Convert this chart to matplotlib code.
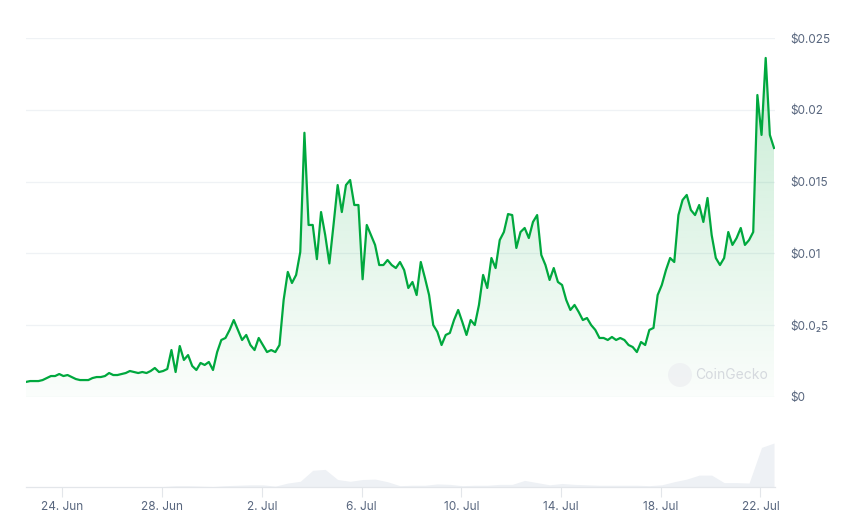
import numpy as np
import pandas as pd
import matplotlib.pyplot as plt
import matplotlib.dates as mdates
from matplotlib.colors import to_rgb
from matplotlib.patches import Polygon, Circle
from matplotlib.transforms import IdentityTransform

plt.rcParams['font.family'] = ['Inter', 'DejaVu Sans']

# price every 4 hours, starting 22 Jun ~13:00
start = pd.Timestamp('2024-06-22 13:00')
prices = [
    0.00105, 0.00111, 0.00111, 0.00111, 0.00118, 0.00132, 0.00146, 0.00146, 0.00160, 0.00146,
    0.00153, 0.00139, 0.00125, 0.00118, 0.00118, 0.00118, 0.00132, 0.00139, 0.00139, 0.00146,
    0.00167, 0.00153, 0.00153, 0.00160, 0.00167, 0.00181, 0.00174, 0.00167, 0.00174, 0.00167,
    0.00181, 0.00202, 0.00174, 0.00181, 0.00195, 0.00327, 0.00174, 0.00355, 0.00258, 0.00292,
    0.00216, 0.00188, 0.00237, 0.00223, 0.00244, 0.00188, 0.00313, 0.00397, 0.00411, 0.00467,
    0.00536, 0.00467, 0.00397, 0.00432, 0.00362, 0.00327, 0.00411, 0.00362, 0.00313, 0.00327,
    0.00313, 0.00362, 0.00676, 0.00871, 0.00794, 0.00850, 0.01010, 0.01840, 0.01198, 0.01198,
    0.00960, 0.01288, 0.01128, 0.00930, 0.01198, 0.01476, 0.01288, 0.01476, 0.01511, 0.01337,
    0.01337, 0.00820, 0.01198, 0.01128, 0.01059, 0.00919, 0.00919, 0.00954, 0.00919, 0.00898,
    0.00940, 0.00884, 0.00759, 0.00801, 0.00710, 0.00940, 0.00829, 0.00710, 0.00501, 0.00453,
    0.00362, 0.00432, 0.00446, 0.00536, 0.00606, 0.00522, 0.00432, 0.00536, 0.00501, 0.00641,
    0.00850, 0.00759, 0.00968, 0.00898, 0.01093, 0.01149, 0.01274, 0.01267, 0.01038, 0.01149,
    0.01177, 0.01107, 0.01219, 0.01267, 0.00989, 0.00919, 0.00815, 0.00898, 0.00801, 0.00780,
    0.00676, 0.00606, 0.00641, 0.00592, 0.00536, 0.00550, 0.00501, 0.00467, 0.00411, 0.00411,
    0.00397, 0.00418, 0.00397, 0.00411, 0.00397, 0.00362, 0.00348, 0.00313, 0.00383, 0.00362,
    0.00467, 0.00481, 0.00710, 0.00780, 0.00884, 0.00968, 0.00940, 0.01267, 0.01372, 0.01407,
    0.01302, 0.01267, 0.01337, 0.01219, 0.01386, 0.01128, 0.00968, 0.00919, 0.00968, 0.01149,
    0.01059, 0.01107, 0.01177, 0.01059, 0.01093, 0.01149, 0.02103, 0.01825, 0.02361, 0.01825,
    0.01734,
]
# volume every 12 hours (relative)
volumes = [
    0.01, 0.01, 0.01, 0.01, 0.01, 0.01, 0.01, 0.01, 0.01, 0.01,
    0.01, 0.01, 0.03, 0.03, 0.02, 0.01, 0.03, 0.04, 0.05, 0.05,
    0.02, 0.09, 0.13, 0.38, 0.40, 0.17, 0.13, 0.17, 0.18, 0.12,
    0.03, 0.04, 0.04, 0.07, 0.06, 0.03, 0.04, 0.04, 0.06, 0.06,
    0.15, 0.10, 0.05, 0.08, 0.06, 0.05, 0.04, 0.04, 0.04, 0.04,
    0.03, 0.05, 0.12, 0.18, 0.27, 0.27, 0.10, 0.10, 0.09, 0.90,
    1.00,
]
price_ticks = [0, 0.005, 0.01, 0.015, 0.02, 0.025]
price_labels = ['$0', '$0.0₂5', '$0.01', '$0.015', '$0.02', '$0.025']
date_ticks = pd.date_range('2024-06-24', '2024-07-22', freq='4D')
date_labels = [f"{d.day}. {d.strftime('%b')}" for d in date_ticks]

green = '#00a83e'
label_col = '#58667e'
grid_col = '#eff2f5'

price_times = pd.date_range(start, periods=len(prices), freq='4h')
volume_times = pd.date_range(start, periods=len(volumes), freq='12h')
x = mdates.date2num(price_times)
y = np.array(prices)
vx = mdates.date2num(volume_times)
x0 = mdates.date2num(start)
x1 = x0 + 30.04

fig = plt.figure(figsize=(8.58, 5.2), dpi=100)
ax = fig.add_axes([26/858, 1-397/520, 749/858, 359/520])
axv = fig.add_axes([26/858, 1-487/520, 749/858, 44/520])

# gradient fill under the price line
grad = np.zeros((256, 1, 4))
grad[:, 0, :3] = to_rgb(green)
grad[:, 0, 3] = np.linspace(0.02, 0.22, 256)
im = ax.imshow(grad, origin='lower', aspect='auto',
               extent=[x[0], x[-1], 0, y.max()], zorder=1)
verts = [(x[0], 0)] + list(zip(x, y)) + [(x[-1], 0)]
clip = Polygon(verts, closed=True, facecolor='none', edgecolor='none')
ax.add_patch(clip)
im.set_clip_path(clip)

ax.plot(x, y, color=green, lw=1.6, zorder=3, solid_joinstyle='round')

ax.set_xlim(x0, x1)
ax.set_ylim(0, 0.025)
ax.set_yticks(price_ticks)
ax.set_yticklabels(price_labels)
ax.yaxis.tick_right()
ax.tick_params(axis='y', length=0, pad=11, labelsize=8.5, labelcolor=label_col)
ax.tick_params(axis='x', length=0, labelbottom=False)
ax.grid(axis='y', color=grid_col, lw=0.9)
ax.set_axisbelow(True)
for s in ax.spines.values():
    s.set_visible(False)

# watermark
fig.add_artist(Circle((680, 520-375), 12, transform=IdentityTransform(),
                      facecolor='#eef0f2', edgecolor='none', alpha=0.8))
fig.text(695/858, 1-375/520, 'CoinGecko', fontsize=10, color='#d5d9de',
         va='center', ha='left')

# volume
axv.fill_between(vx, volumes, color='#eef1f5', lw=0)
axv.set_xlim(x0, x1)
axv.set_ylim(0, 1.0)
axv.set_yticks([])
axv.set_xticks(mdates.date2num(date_ticks))
axv.set_xticklabels(date_labels)
axv.tick_params(axis='x', length=7, width=0.8, color='#e3e6ea',
                labelsize=8.5, labelcolor=label_col, pad=3)
for s in ['top', 'left', 'right']:
    axv.spines[s].set_visible(False)
axv.spines['bottom'].set_color('#e3e6ea')
axv.spines['bottom'].set_linewidth(0.9)

fig.savefig('out.png', dpi=100)
